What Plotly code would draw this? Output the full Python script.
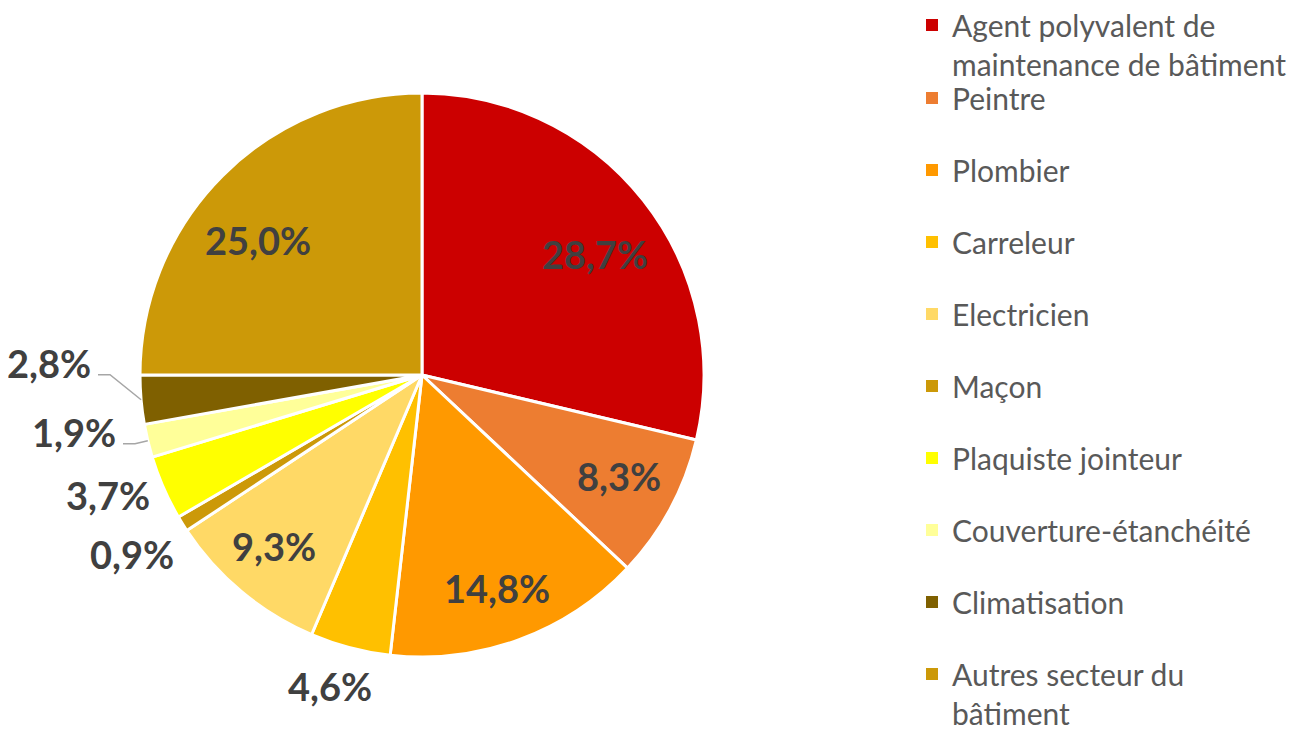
import math
import plotly.graph_objects as go

categories = [
    "Agent polyvalent de<br>maintenance de bâtiment",
    "Peintre",
    "Plombier",
    "Carreleur",
    "Electricien",
    "Maçon",
    "Plaquiste jointeur",
    "Couverture-étanchéité",
    "Climatisation",
    "Autres secteur du<br>bâtiment",
]
values = [28.7, 8.3, 14.8, 4.6, 9.3, 0.9, 3.7, 1.9, 2.8, 25.0]
colors = ["#CC0000", "#ED7D31", "#FF9900", "#FFC000", "#FFD966",
          "#CC9908", "#FFFF00", "#FFFF99", "#7F6000", "#CC9908"]

# label style: inside / outside, pixel nudges, leader lines
label_inside = [True, True, True, False, True, False, False, False, False, True]
label_nudge = [(3, 14), (6, -2), (0, 9), (-6, 5), (-9, 4),
               (-5, 12), (-6, -6), (-21, -17), (-38, -40), (-10, 19)]
label_leader = {7, 8}

# page geometry (browser body margin of 8 px at top/left of the figure)
PAGE_OFF = 8
W, H = 1306 - PAGE_OFF, 729 - PAGE_OFF
cx, cy, R = 422, 375, 282          # pie centre / radius in screen pixels
LABEL_FONT = 38


def to_paper(px, py):
    return (px - PAGE_OFF) / W, 1 - (py - PAGE_OFF) / H


fig = go.Figure()
fig.add_trace(go.Pie(
    labels=categories,
    values=values,
    sort=False,
    direction="clockwise",
    rotation=0,
    marker=dict(colors=colors, line=dict(color="white", width=3)),
    textinfo="none",
    showlegend=False,
    hoverinfo="label+percent",
    domain=dict(x=[to_paper(cx - R, 0)[0], to_paper(cx + R, 0)[0]],
                y=[to_paper(0, cy + R)[1], to_paper(0, cy - R)[1]]),
))

total = sum(values)
cum = 0.0
annotations = []
shapes = []
for i, v in enumerate(values):
    mid = (cum + v / 2) / total * 2 * math.pi
    cum += v
    s, c = math.sin(mid), math.cos(mid)
    txt = f"{v:.1f}%".replace(".", ",")
    w_est = 0.56 * LABEL_FONT * len(txt)
    h_est = 1.2 * LABEL_FONT
    if label_inside[i]:
        lx, ly = cx + 0.77 * R * s, cy - 0.77 * R * c
    else:
        px, py = cx + 1.04 * R * s, cy - 1.04 * R * c
        lx, ly = px + s * w_est / 2, py - c * h_est / 2
    lx += label_nudge[i][0]
    ly += label_nudge[i][1]
    if i in label_leader:
        rim = (cx + R * s, cy - R * c)
        right = lx + w_est / 2
        pts = [rim, (right + 18, ly + 12), (right + 6, ly + 12)]
        path = "M " + " L ".join(
            f"{to_paper(*p)[0]},{to_paper(*p)[1]}" for p in pts)
        shapes.append(dict(type="path", xref="paper", yref="paper",
                           path=path,
                           line=dict(color="#A6A6A6", width=1.5)))
    ax_, ay_ = to_paper(lx, ly)
    annotations.append(dict(
        x=ax_, y=ay_, xref="paper", yref="paper", text=txt,
        showarrow=False, xanchor="center", yanchor="middle",
        font=dict(family="Lato", size=LABEL_FONT, color="#404040",
                  weight="bold"),
    ))

for i, (name, col) in enumerate(zip(categories, colors)):
    fig.add_trace(go.Scatter(
        x=[None], y=[None], mode="markers",
        marker=dict(symbol="square", size=12, color=col),
        name=name, legendgroup=f"g{i}",
        legend="legend" if i == 0 else "legend2",
        showlegend=True,
    ))

legend_font = dict(family="Lato", size=30, color="#595959")
fig.update_layout(
    width=W, height=H,
    margin=dict(l=0, r=0, t=0, b=0, autoexpand=False),
    paper_bgcolor="white", plot_bgcolor="white",
    xaxis=dict(visible=False), yaxis=dict(visible=False),
    annotations=annotations,
    shapes=shapes,
    legend=dict(x=904 / W, y=1 + 9 / H, xanchor="left", yanchor="top",
                font=legend_font, valign="top", bgcolor="rgba(0,0,0,0)"),
    legend2=dict(x=904 / W, y=1 - 64 / H, xanchor="left", yanchor="top",
                 font=legend_font, valign="top", tracegroupgap=30,
                 bgcolor="rgba(0,0,0,0)"),
)

fig.write_html("out.html")
